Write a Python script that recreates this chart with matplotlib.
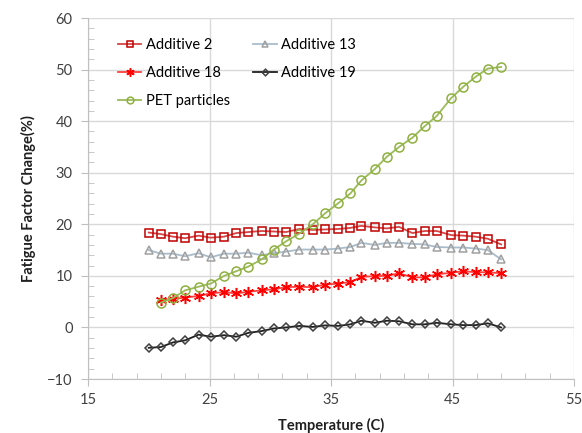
import matplotlib.pyplot as plt
from matplotlib.ticker import MultipleLocator

# temperatures (C)
temp = [20.0, 21.0, 22.0, 23.0, 24.1, 25.1, 26.2, 27.2, 28.2, 29.3,
        30.3, 31.3, 32.4, 33.5, 34.5, 35.6, 36.6, 37.5, 38.6, 39.6,
        40.6, 41.7, 42.7, 43.7, 44.9, 45.9, 46.9, 47.9, 49.0]

add2 = [18.4, 18.1, 17.6, 17.3, 17.8, 17.4, 17.6, 18.3, 18.5, 18.7,
        18.6, 18.5, 19.1, 18.9, 19.0, 19.1, 19.3, 19.7, 19.4, 19.2,
        19.5, 18.3, 18.7, 18.7, 17.9, 17.8, 17.6, 17.2, 16.1]
add13 = [15.0, 14.3, 14.3, 13.8, 14.4, 13.6, 14.3, 14.3, 14.5, 14.0,
         14.4, 14.7, 15.1, 15.1, 15.1, 15.3, 15.6, 16.4, 16.0, 16.4,
         16.4, 16.2, 16.1, 15.6, 15.5, 15.5, 15.3, 15.0, 13.2]
add18 = [5.3, 5.5, 5.8, 6.1, 6.6, 6.85, 6.6, 6.9, 7.2, 7.4,
         7.8, 7.9, 7.8, 8.3, 8.5, 8.8, 9.8, 9.95, 10.0, 10.5,
         9.7, 9.7, 10.3, 10.6, 10.9, 10.7, 10.7, 10.5]
add19 = [-3.95, -3.8, -2.9, -2.5, -1.4, -1.8, -1.5, -1.8, -1.05, -0.7,
         -0.2, 0.0, 0.3, 0.1, 0.4, 0.3, 0.6, 1.3, 0.9, 1.3,
         1.2, 0.6, 0.6, 0.9, 0.6, 0.45, 0.45, 0.8, 0.0]
pet = [4.8, 5.7, 7.2, 7.9, 8.5, 10.0, 10.9, 11.8, 13.2, 15.1,
       16.7, 18.2, 20.0, 22.1, 24.1, 26.0, 28.5, 30.7, 33.1, 35.0,
       36.8, 39.0, 41.0, 44.5, 46.7, 48.6, 50.2, 50.5]

xticks = [15, 25, 35, 45, 55]

plt.rcParams['font.family'] = ['Lato', 'DejaVu Sans']

fig = plt.figure(figsize=(5.82, 4.33), dpi=100)
ax = fig.add_axes([0.1512, 0.1247, 0.8351, 0.8337])

l2, = ax.plot(temp, add2, color='#D64545', marker='s', ms=6, mfc='none',
              mec='#C00000', mew=1.1, lw=1.3, label='Additive 2')
l13, = ax.plot(temp, add13, color='#A9BCCB', marker='^', ms=6, mfc='none',
               mec='#A0A0A0', mew=1.1, lw=1.3, label='Additive 13')
l18, = ax.plot(temp[1:], add18, color='#FF4040', marker=(6, 2, 0), ms=8,
               mec='#FF0000', mew=1.1, lw=1.3, label='Additive 18')
l19, = ax.plot(temp, add19, color='#202020', marker='D', ms=4.5, mfc='none',
               mec='#404040', mew=1.1, lw=1.3, label='Additive 19')
lp, = ax.plot(temp[1:], pet, color='#9BBB59', marker='o', ms=6.5, mfc='none',
              mec='#8FB040', mew=1.1, lw=1.3, label='PET particles')

ax.set_xlim(15, 55)
ax.set_ylim(-10, 60)
ax.set_xticks(xticks)
ax.yaxis.set_major_locator(MultipleLocator(10))
ax.yaxis.set_minor_locator(MultipleLocator(2))
ax.xaxis.set_minor_locator(MultipleLocator(2, offset=1))
ax.grid(True, which='major', color='#D9D9D9', lw=1)
ax.set_axisbelow(True)
for s in ['top', 'right']:
    ax.spines[s].set_visible(False)
for s in ['left', 'bottom']:
    ax.spines[s].set_color('#BFBFBF')
ax.tick_params(which='both', color='#BFBFBF', labelsize=10.5, labelcolor='#404040')
ax.tick_params(which='major', direction='out', length=5)
ax.tick_params(which='minor', direction='in', length=4)
ax.tick_params(axis='x', which='major', pad=5)
ax.tick_params(axis='y', which='major', pad=6)

ax.set_xlabel('Temperature (C)', fontsize=10.5, fontweight='bold', color='#202020',
              labelpad=8)
ax.set_ylabel('Fatigue Factor Change(%)', fontsize=10.5, fontweight='bold', color='#202020',
              labelpad=8)

ax.legend([l2, l18, lp, l13, l19],
          ['Additive 2', 'Additive 18', 'PET particles', 'Additive 13', 'Additive 19'],
          ncol=2, loc='upper left', bbox_to_anchor=(0.035, 0.98), frameon=False,
          fontsize=10.5, handlelength=1.6, handletextpad=0.3, columnspacing=1.6,
          labelspacing=0.95, markerscale=0.75)

fig.savefig('out.png', dpi=100)
